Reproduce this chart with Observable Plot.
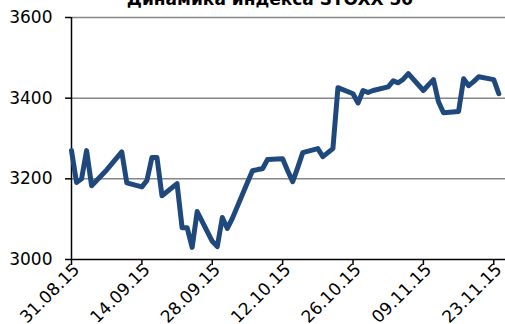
<!DOCTYPE html>
<html><head><meta charset="utf-8">
<script src="https://cdn.jsdelivr.net/npm/d3@7"></script>
<script src="https://cdn.jsdelivr.net/npm/@observablehq/plot@0.6"></script>
<style>
body{margin:0;background:#fff;overflow:hidden}
#wrap{position:relative;width:505px;height:324px;overflow:hidden}
#chart{position:absolute;left:0;top:0}
#title{position:absolute;top:-11px;left:0;width:540px;text-align:center;font:bold 17px "DejaVu Sans";color:#000;white-space:nowrap}
</style></head><body><div id="wrap"><div id="chart"></div><div id="title">Динамика индекса STOXX 50</div></div>
<script>
const dates = [
"2015-08-31","2015-09-01","2015-09-02","2015-09-03","2015-09-04",
"2015-09-07","2015-09-08","2015-09-09","2015-09-10","2015-09-11",
"2015-09-14","2015-09-15","2015-09-16","2015-09-17","2015-09-18",
"2015-09-21","2015-09-22","2015-09-23","2015-09-24","2015-09-25",
"2015-09-28","2015-09-29","2015-09-30","2015-10-01","2015-10-02",
"2015-10-05","2015-10-06","2015-10-07","2015-10-08","2015-10-09",
"2015-10-12","2015-10-13","2015-10-14","2015-10-15","2015-10-16",
"2015-10-19","2015-10-20","2015-10-21","2015-10-22","2015-10-23",
"2015-10-26","2015-10-27","2015-10-28","2015-10-29","2015-10-30",
"2015-11-02","2015-11-03","2015-11-04","2015-11-05","2015-11-06",
"2015-11-09","2015-11-10","2015-11-11","2015-11-12","2015-11-13",
"2015-11-16","2015-11-17","2015-11-18","2015-11-19","2015-11-20",
"2015-11-23","2015-11-24"
];
const values = [
3270,3191,3200,3270,3183,
3222,3237,3252,3267,3190,
3180,3196,3253,3253,3158,
3188,3079,3079,3030,3119,
3045,3032,3104,3077,3102,
3191,3220,3223,3225,3248,
3250,3220,3193,3228,3265,
3275,3255,3265,3275,3426,
3411,3388,3419,3414,3419,
3428,3443,3438,3447,3461,
3419,3433,3446,3391,3364,
3367,3448,3431,3441,3453,
3446,3411
];
const tickLabels = ["2015-08-31","2015-09-14","2015-09-28","2015-10-12","2015-10-26","2015-11-09","2015-11-23"];
const yTicks = [3000,3200,3400,3600];
const gridTicks = [3200,3400,3600];

const toDate = d => new Date(d + "T00:00:00Z");
const data = dates.map((d,i)=>({date:toDate(d), value:values[i]}));
const tickDates = tickLabels.map(toDate);
const xStart = toDate(dates[0]);
const xEnd = new Date("2015-11-25T08:00:00Z");
const fmt = d3.utcFormat("%d.%m.%y");

const chart = Plot.plot({
  width:505, height:324,
  marginLeft:71, marginRight:0, marginTop:17, marginBottom:65,
  style:{fontFamily:"DejaVu Sans", fontSize:"17px", color:"#000", background:"#fff", overflow:"visible"},
  x:{type:"utc", domain:[xStart,xEnd]},
  y:{domain:[3000,3600]},
  marks:[
    Plot.gridY(gridTicks,{stroke:"#868686", strokeOpacity:1, strokeWidth:1.5}),
    Plot.axisY(yTicks,{tickSize:6, tickPadding:13, fontSize:17, label:null, strokeWidth:1.5, tickFormat:d=>String(d)}),
    Plot.axisX(tickDates,{tickSize:6, label:null, strokeWidth:1.5, tickFormat:()=>""}),
    Plot.text(tickDates,{x:d=>d, y:()=>3000, text:d=>fmt(d), rotate:-45, textAnchor:"end", lineAnchor:"bottom", dx:9, dy:11, fontSize:17, fill:"#000"}),
    Plot.ruleX([xStart],{stroke:"#000", strokeWidth:1.5}),
    Plot.ruleY([3000],{stroke:"#000", strokeWidth:1.5}),
    Plot.line(data,{x:"date", y:"value", stroke:"#1F497D", strokeWidth:5, strokeLinejoin:"round", strokeLinecap:"round"})
  ]
});
document.getElementById("chart").appendChild(chart);
</script>
</body></html>
